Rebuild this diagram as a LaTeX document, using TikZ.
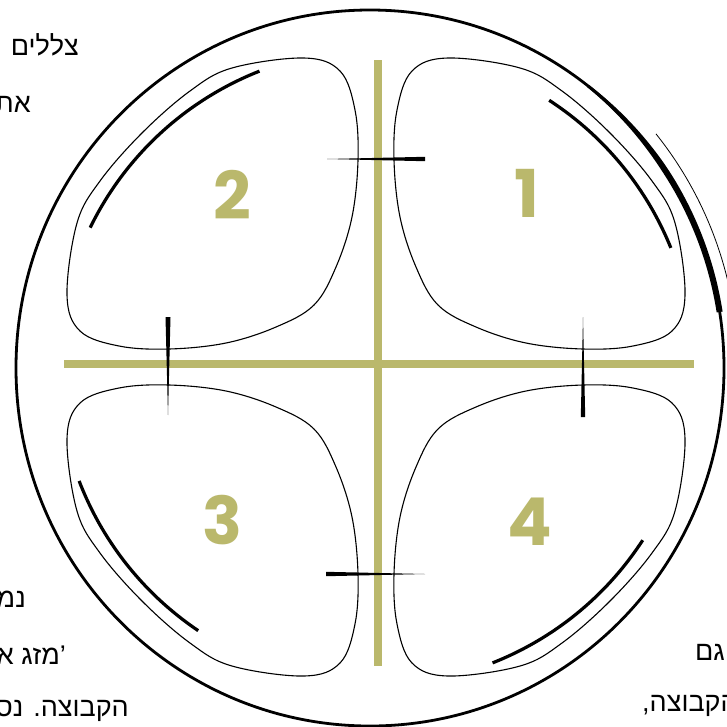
\documentclass[tikz,border=0pt]{standalone}
\usepackage{fontspec}
\newfontfamily\hebfont[Script=Hebrew]{Liberation Sans}
\newfontfamily\digitfont{Poppins}
\TeXXeTstate=1
\definecolor{colive}{HTML}{BAB86C}
\tikzset{
  bar/.style={draw=colive, line width=8pt},
  petal/.style={draw=black, line width=1.1pt},
  brush/.style={draw=black, line width=3.2pt},
  rim/.style={draw=black, line width=2.8pt},
  tickmark/.style={fill=black},
  digit/.style={text=colive, inner sep=0pt, font=\digitfont\bfseries\fontsize{66}{66}\selectfont},
  heb/.style={inner sep=0pt, font=\hebfont\fontsize{27}{27}\selectfont},
}

\begin{document}
\begin{tikzpicture}[x=1pt, y=-1pt]
  \useasboundingbox[fill=white] (0,0) rectangle (727,726);
  % text behind the picture, cut by the page
  \node[heb, anchor=base east] (t1) at (79,55) {\beginR צללים\endR};
  \node[heb, anchor=base east] (t2) at (31,112) {\beginR את\endR};
  \node[heb, anchor=base east] (t3) at (26,607) {\beginR נמ\endR};
  \node[heb, anchor=base east] (t4) at (66,664) {\beginR ’מזג א\endR};
  \node[heb, anchor=base east] (t5) at (129,716) {\beginR הקבוצה. נסו\endR};
  \node[heb, anchor=base east] (t6) at (725,660) {\beginR גם\endR};
  \node[heb, anchor=base west] (t7) at (642,711) {\beginR הקבוצה,\endR};
  % cross
  \draw[bar] (378,60) -- (378,666);
  \draw[bar] (64,364) -- (694,364);
  % outer ring
  \draw[rim] (370,368) ellipse [x radius=354, y radius=358];
  \fill plot[domain=9:52, samples=40] ({370+(354+1.4+1.6*min(1,(52-\x)/18))*cos(\x)}, {368-(358+1.4+1.6*min(1,(52-\x)/18))*sin(\x)})
     -- plot[domain=52:9, samples=40] ({370+(354-1.4-1.6*min(1,(52-\x)/18))*cos(\x)}, {368-(358-1.4-1.6*min(1,(52-\x)/18))*sin(\x)}) -- cycle;
  \draw[line width=0.8pt] plot[domain=39:3, samples=40] ({370+368*cos(\x)}, {368-372*sin(\x)});
  % four petals
  \foreach \sx/\sy/\a/\b in {1/-1/57/22, -1/-1/68.5/26, -1/1/21/56, 1/1/68.5/33} {
    \begin{scope}[shift={(376,367)}, xscale=\sx, yscale=\sy]
      \draw[petal] plot[smooth cycle, tension=0.6] coordinates {
        (36,296) (72,309) (144,299) (186,276) (234,234) (276,186) (299,144) (309,72)
        (296,36) (257,21) (207,18) (150,24) (100,40) (62,62) (40,100) (24,150) (18,207) (21,257)};
      \draw[brush] plot[domain=\a:\b, samples=40] (\x:318);
    \end{scope}
  }
  % tapered ticks
  \fill[tickmark] (327,159) -- (425,156.8) -- (425,161.2) -- cycle;
  \fill[tickmark] (165.5,317) -- (170.5,317) -- (168,415) -- cycle;
  \fill[tickmark] (583,317) -- (585.2,417) -- (580.8,417) -- cycle;
  \fill[tickmark] (326,571.8) -- (326,576.2) -- (425,574) -- cycle;
  % numbers
  \node[digit] (n1) at (527,193) {1};
  \node[digit] (n2) at (232,195) {2};
  \node[digit] (n3) at (222,520) {3};
  \node[digit] (n4) at (530,522) {4};
\end{tikzpicture}
\end{document}
